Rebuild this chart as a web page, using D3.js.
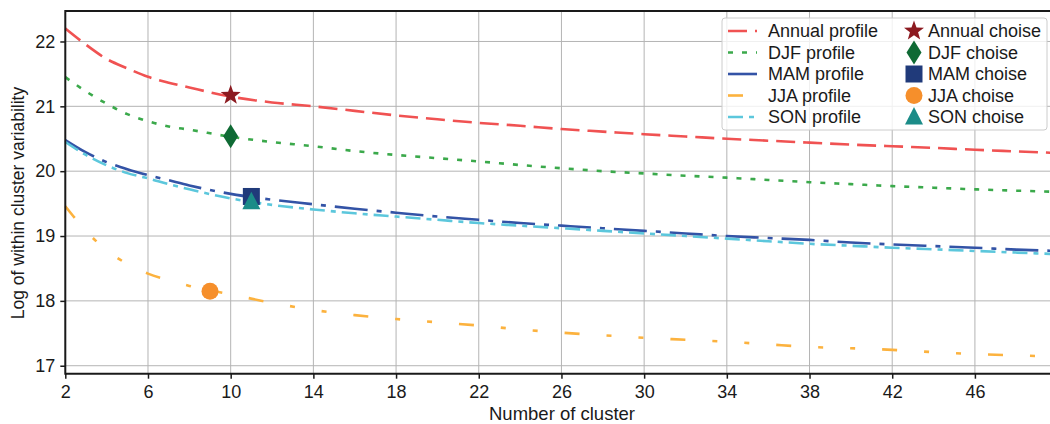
<!DOCTYPE html>
<html>
<head>
<meta charset="utf-8">
<script src="https://cdn.jsdelivr.net/npm/d3@7"></script>
<style>
  body { margin: 0; background: #fff; }
  svg { display: block; font-family: "Liberation Sans", Arial, sans-serif; }
  .grid line { stroke: #b4b4b4; stroke-width: 1; }
  .tick text { font-size: 18px; fill: #1a1a1a; }
</style>
</head>
<body>
<svg width="1050" height="424"></svg>
<script>
var svg = d3.select("svg"),
    width = +svg.attr("width"),
    height = +svg.attr("height");

// cluster counts shared by all profiles
var clusters = [2, 3, 4, 5, 6, 7, 8, 10, 12, 14, 16, 18, 20, 22, 24, 26, 28, 30, 32, 34, 36, 38, 40, 42, 44, 46, 48, 50];

var annual = [22.2, 21.95, 21.73, 21.585, 21.455, 21.365, 21.29, 21.15, 21.06, 21.0, 20.93, 20.86, 20.8, 20.745, 20.7, 20.65, 20.61, 20.57, 20.535, 20.5, 20.47, 20.44, 20.41, 20.385, 20.36, 20.33, 20.305, 20.28];
var djf = [21.45, 21.23, 21.04, 20.88, 20.77, 20.69, 20.64, 20.53, 20.45, 20.385, 20.31, 20.25, 20.2, 20.15, 20.095, 20.045, 20.0, 19.965, 19.93, 19.9, 19.865, 19.83, 19.8, 19.77, 19.745, 19.72, 19.7, 19.68];
var mam = [20.48, 20.29, 20.14, 20.03, 19.94, 19.86, 19.78, 19.65, 19.56, 19.49, 19.42, 19.36, 19.3, 19.25, 19.2, 19.16, 19.12, 19.08, 19.04, 19.0, 18.97, 18.94, 18.9, 18.87, 18.845, 18.82, 18.79, 18.77];
var jja = [19.46, 19.08, 18.78, 18.57, 18.42, 18.32, 18.23, 18.1, 17.97, 17.86, 17.78, 17.72, 17.67, 17.62, 17.56, 17.51, 17.47, 17.43, 17.4, 17.37, 17.33, 17.29, 17.27, 17.245, 17.21, 17.18, 17.16, 17.14];
var son = [20.45, 20.25, 20.09, 19.97, 19.89, 19.8, 19.72, 19.58, 19.48, 19.41, 19.35, 19.3, 19.25, 19.2, 19.16, 19.12, 19.08, 19.04, 19.0, 18.96, 18.92, 18.88, 18.85, 18.82, 18.795, 18.77, 18.745, 18.72];

// chosen number of clusters per season
var choiceNames = ["Annual", "DJF", "MAM", "JJA", "SON"];
var choiceX = [10, 10, 11, 9, 11];
var choiceY = [21.17, 20.54, 19.61, 18.15, 19.53];

var xTicks = [2, 6, 10, 14, 18, 22, 26, 30, 34, 38, 42, 46];
var yTicks = [17, 18, 19, 20, 21, 22];

var profiles = [
  {name: "Annual profile", values: annual, color: "#f05252", dash: "19,8"},
  {name: "DJF profile", values: djf, color: "#3ba94b", dash: "5,9"},
  {name: "MAM profile", values: mam, color: "#3353a6", dash: "33,9,5,9"},
  {name: "JJA profile", values: jja, color: "#fcb23e", dash: "15,27,5,27,5,27"},
  {name: "SON profile", values: son, color: "#5cc7dc", dash: "15,6,5,6"}
];
var markerColors = ["#8c1a20", "#0f6a34", "#203a7a", "#f68f2b", "#1b8c88"];
var markerTypes = ["star", "diamond", "square", "circle", "triangle"];

var margin = {top: 11, left: 65.3, bottom: 373.7};

var x = d3.scaleLinear().domain([2, 50]).range([margin.left, 1057.6]);
var y = d3.scaleLinear().domain([16.877, 22.47]).range([margin.bottom, margin.top]);

// grid
var grid = svg.append("g").attr("class", "grid");
grid.selectAll("line.v")
    .data(xTicks)
    .enter().append("line")
      .attr("x1", function(d) { return x(d); })
      .attr("x2", function(d) { return x(d); })
      .attr("y1", margin.top)
      .attr("y2", margin.bottom);
grid.selectAll("line.h")
    .data(yTicks)
    .enter().append("line")
      .attr("x1", margin.left)
      .attr("x2", width)
      .attr("y1", function(d) { return y(d); })
      .attr("y2", function(d) { return y(d); });

// profile lines
var line = d3.line()
    .x(function(d) { return x(d[0]); })
    .y(function(d) { return y(d[1]); })
    .curve(d3.curveMonotoneX);

svg.append("g")
    .selectAll("path")
    .data(profiles)
    .enter().append("path")
      .attr("fill", "none")
      .attr("stroke", function(d) { return d.color; })
      .attr("stroke-width", 2.6)
      .attr("stroke-dasharray", function(d) { return d.dash; })
      .attr("d", function(d) { return line(clusters.map(function(c, i) { return [c, d.values[i]]; })); });

function markerPath(type) {
  if (type == "star") {
    var pts = [];
    for (var i = 0; i < 10; i++) {
      var r = i % 2 == 0 ? 10.5 : 4.3;
      var a = -Math.PI / 2 + i * Math.PI / 5;
      pts.push([r * Math.cos(a), r * Math.sin(a)]);
    }
    return "M" + pts.join("L") + "Z";
  }
  if (type == "diamond") return "M0,-12L7.5,0L0,12L-7.5,0Z";
  if (type == "square") return "M-8.5,-8.5H8.5V8.5H-8.5Z";
  if (type == "triangle") return "M0,-10L9,7.5H-9Z";
  return d3.symbol().type(d3.symbolCircle).size(Math.PI * 8.5 * 8.5)();
}

svg.append("g")
    .selectAll("path")
    .data(choiceNames)
    .enter().append("path")
      .attr("transform", function(d, i) { return "translate(" + x(choiceX[i]) + "," + y(choiceY[i]) + ")"; })
      .attr("d", function(d, i) { return markerPath(markerTypes[i]); })
      .attr("fill", function(d, i) { return markerColors[i]; });

// axes
var xAxis = svg.append("g")
    .attr("transform", "translate(0," + margin.bottom + ")")
    .call(d3.axisBottom(x).tickValues(xTicks).tickSize(5).tickPadding(5).tickFormat(d3.format("d")));
var yAxis = svg.append("g")
    .attr("transform", "translate(" + margin.left + ",0)")
    .call(d3.axisLeft(y).tickValues(yTicks).tickSize(5).tickPadding(5).tickFormat(d3.format("d")));

[xAxis, yAxis].forEach(function(ax) {
  ax.select(".domain").remove();
  ax.selectAll(".tick line").attr("stroke", "#1a1a1a").attr("stroke-width", 1.5);
});
xAxis.selectAll(".tick text").attr("dy", "0.78em");

// spines
svg.append("line").attr("x1", margin.left).attr("x2", width).attr("y1", margin.bottom).attr("y2", margin.bottom)
    .attr("stroke", "#1a1a1a").attr("stroke-width", 2);
svg.append("line").attr("x1", margin.left).attr("x2", width).attr("y1", margin.top).attr("y2", margin.top)
    .attr("stroke", "#1a1a1a").attr("stroke-width", 2);
svg.append("line").attr("x1", margin.left).attr("x2", margin.left).attr("y1", margin.top - 1).attr("y2", margin.bottom + 1)
    .attr("stroke", "#1a1a1a").attr("stroke-width", 2);

// axis labels
svg.append("text")
    .attr("x", 562)
    .attr("y", 420)
    .attr("text-anchor", "middle")
    .style("font-size", "18.5px")
    .attr("fill", "#1a1a1a")
    .text("Number of cluster");
svg.append("text")
    .attr("transform", "translate(24,203) rotate(-90)")
    .attr("text-anchor", "middle")
    .style("font-size", "17.5px")
    .attr("fill", "#1a1a1a")
    .text("Log of within cluster variability");

// legend
var legend = svg.append("g");
legend.append("rect")
    .attr("x", 722).attr("y", 18)
    .attr("width", 325).attr("height", 112)
    .attr("rx", 3)
    .attr("fill", "#fff").attr("fill-opacity", 0.8)
    .attr("stroke", "#cccccc").attr("stroke-width", 1);

var rowY = d3.scaleLinear().domain([0, 4]).range([31, 117]);

var items = legend.selectAll("g.item")
    .data(profiles)
    .enter().append("g");
items.append("line")
    .attr("x1", 728).attr("x2", 757)
    .attr("y1", function(d, i) { return rowY(i); })
    .attr("y2", function(d, i) { return rowY(i); })
    .attr("stroke", function(d) { return d.color; })
    .attr("stroke-width", 2.6)
    .attr("stroke-dasharray", function(d) { return d.dash; });
items.append("text")
    .attr("x", 768)
    .attr("y", function(d, i) { return rowY(i); })
    .attr("dy", "0.36em")
    .style("font-size", "18px")
    .attr("fill", "#1a1a1a")
    .text(function(d) { return d.name; });

var choiceItems = legend.selectAll("g.choice")
    .data(choiceNames)
    .enter().append("g");
choiceItems.append("path")
    .attr("transform", function(d, i) { return "translate(914," + rowY(i) + ")"; })
    .attr("d", function(d, i) { return markerPath(markerTypes[i]); })
    .attr("fill", function(d, i) { return markerColors[i]; });
choiceItems.append("text")
    .attr("x", 928)
    .attr("y", function(d, i) { return rowY(i); })
    .attr("dy", "0.36em")
    .style("font-size", "18px")
    .attr("fill", "#1a1a1a")
    .text(function(d) { return d + " choise"; });
</script>
</body>
</html>
